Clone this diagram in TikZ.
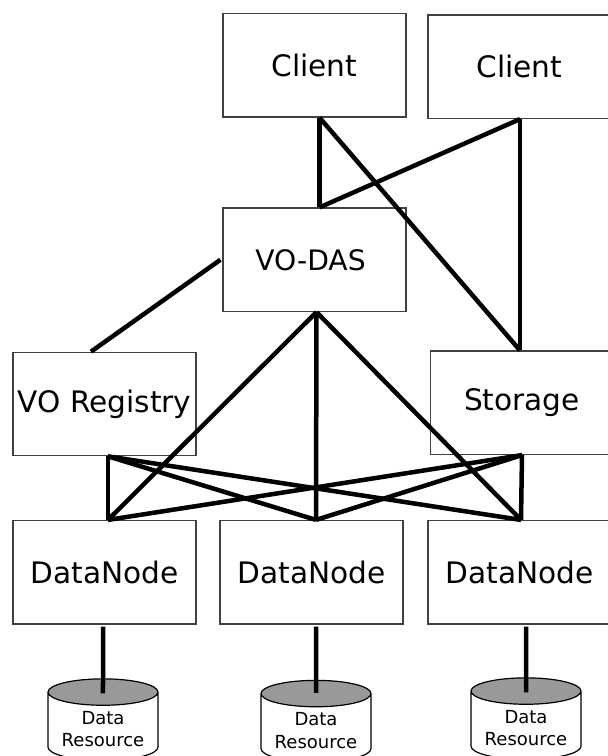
\documentclass[tikz,border=0pt]{standalone}
\usepackage{fontspec}
\setmainfont{DejaVu Sans}
\usetikzlibrary{shapes.geometric}
\definecolor{resgray}{gray}{0.6}
\tikzstyle{servicebox} = [draw=black!75, line width=1.2pt, rectangle, minimum width=183pt, minimum height=103.5pt, inner sep=0pt, font=\fontsize{29.6pt}{34pt}\selectfont]
\tikzstyle{resource} = [draw=black, line width=1.2pt, cylinder, shape border rotate=90, shape aspect=0.32, minimum width=110pt, minimum height=81.5pt, inner sep=0pt, align=center, cylinder uses custom fill, cylinder end fill=resgray, cylinder body fill=white, font=\fontsize{18pt}{22.5pt}\selectfont]
\tikzstyle{link} = [draw=black, line width=4.5pt]
\begin{document}
\begin{tikzpicture}[x=1pt,y=-1pt]
\clip[use as bounding box] (0,0) rectangle (608,756);
\node [servicebox] (client1) at (314.5,65.25) {Client};
\node [servicebox] (client2) at (519.5,66.75) {Client};
\node [servicebox, font=\fontsize{28.2pt}{34pt}\selectfont] (vodas) at (314.5,259.75) {VO-DAS\hspace*{8pt}};
\node [servicebox] (voreg) at (104.5,404) {VO Registry};
\node [servicebox] (storage) at (522,402.75) {Storage};
\node [servicebox] (dn1) at (104.5,572.25) {DataNode};
\node [servicebox] (dn2) at (311.5,572.25) {DataNode};
\node [servicebox] (dn3) at (519.5,572.25) {DataNode};
\node [resource] (res1) at (103,726.5) {\rule{0pt}{18pt}Data\\Resource};
\node [resource] (res2) at (316,728) {\rule{0pt}{18pt}Data\\Resource};
\node [resource] (res3) at (526,725.5) {\rule{0pt}{18pt}Data\\Resource};
% clients
\draw [link] ([xshift=5pt]client1.south) -- ([xshift=5pt]vodas.north);
\draw [link] ([xshift=5pt]client1.south) -- ([xshift=-2pt]storage.north);
\draw [link] ([xshift=0.5pt]client2.south) -- ([xshift=5pt]vodas.north);
\draw [link] ([xshift=0.5pt]client2.south) -- ([xshift=-2pt]storage.north);
% vo-das
\draw [link] ([xshift=-2pt]vodas.west) -- ([xshift=-13.5pt]voreg.north);
\draw [link] ([xshift=2pt]vodas.south) -- ([xshift=3.5pt]dn1.north);
\draw [link] ([xshift=2pt]vodas.south) -- ([xshift=4.5pt]dn2.north);
\draw [link] ([xshift=2pt]vodas.south) -- ([xshift=1.5pt]dn3.north);
% registry and storage
\draw [link] ([xshift=3.5pt]voreg.south) -- ([xshift=3.5pt]dn1.north);
\draw [link] ([xshift=3.5pt]voreg.south) -- ([xshift=4.5pt]dn2.north);
\draw [link] ([xshift=3.5pt]voreg.south) -- ([xshift=1.5pt]dn3.north);
\draw [link] (storage.south) -- ([xshift=3.5pt]dn1.north);
\draw [link] (storage.south) -- ([xshift=4.5pt]dn2.north);
\draw [link] (storage.south) -- ([xshift=1.5pt]dn3.north);
% data resources
\draw [link] ([xshift=-1.5pt,yshift=-2pt]dn1.south) -- ([yshift=-15pt]res1.north);
\draw [link] ([xshift=4.5pt,yshift=-2pt]dn2.south) -- ([yshift=-13pt]res2.north);
\draw [link] ([xshift=6.5pt,yshift=-2pt]dn3.south) -- ([yshift=-15pt]res3.north);
\end{tikzpicture}
\end{document}
